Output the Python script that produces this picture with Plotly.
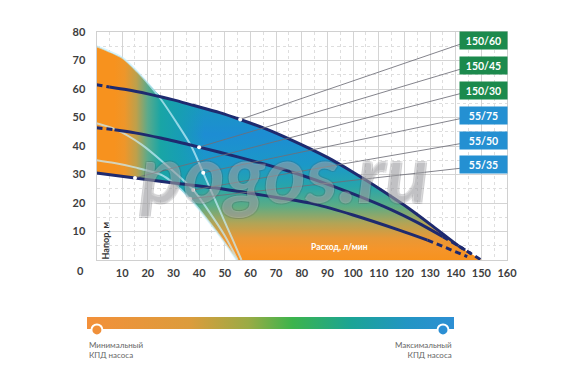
import plotly.graph_objects as go

W, H = 583, 388

# ---------------- data ----------------
X_TICKS = list(range(10, 161, 10))
Y_TICKS = list(range(10, 81, 10))

Q_150_60 = [0, 5, 12, 20, 25, 30, 38, 48, 56, 66, 75, 90, 100, 111, 120, 130, 141, 150]
H_150_60 = [61.5, 60.7, 59.7, 58.3, 57.3, 56.2, 54.2, 51.7, 49.3, 46.0, 42.5, 36.0, 30.8, 24.6, 19.2, 12.6, 5.0, 0]

Q_150_45 = [0, 7, 15, 25, 40, 55, 72, 85, 100, 115, 125, 135, 146]
H_150_45 = [46.4, 45.7, 44.6, 42.8, 39.6, 36.2, 32.0, 28.2, 23.2, 17.6, 13.2, 8.2, 2.3]

Q_150_30 = [0, 15, 30, 45, 60, 72, 85, 100, 118, 129, 144.5]
H_150_30 = [30.5, 28.8, 27.0, 25.4, 23.4, 21.7, 19.6, 15.8, 10.5, 7.0, 1.2]

Q_55_75 = [0, 10, 16, 21, 25, 31, 37, 41.6, 46, 50, 53, 56.5]
H_55_75 = [75, 71, 66, 61, 56.5, 48.5, 39.8, 30.6, 21.5, 13.4, 7.3, 0]

Q_55_50 = [0, 7, 17.6, 27, 37.7, 45, 50, 55]
H_55_50 = [48, 46, 40.5, 33.5, 24.6, 15.5, 8.5, 0]

Q_55_35 = [0, 7, 15, 25, 30, 36.5, 42, 48, 54.7]
H_55_35 = [35, 34, 32.5, 30.0, 27.0, 21.5, 15.5, 8.5, 0]

SERIES = ["150/60", "150/45", "150/30", "55/75", "55/50", "55/35"]
CURVES = {
    "150/60": (Q_150_60, H_150_60),
    "150/45": (Q_150_45, H_150_45),
    "150/30": (Q_150_30, H_150_30),
    "55/75": (Q_55_75, H_55_75),
    "55/50": (Q_55_50, H_55_50),
    "55/35": (Q_55_35, H_55_35),
}
# flow range drawn solid for the big pumps (rest dashed)
SOLID_RANGE = {"150/60": (5, 141), "150/45": (7, 135), "150/30": (0, 129)}
# curve point where each label's leader line ends
LEADER_POINT = {"150/60": 56, "150/45": 40, "150/30": 15, "55/75": 41.6, "55/50": 37.7, "55/35": 36.5}

UNION_Q = 23   # 55/75 above 150/60 left of this flow
LOW_Q = 30     # 150/30 forms lower edge of the field left of this flow

AXIS_TITLE_Y = "Напор, м"
AXIS_TITLE_X = "Расход, л/мин"
BAR_LEFT = ["Минимальный", "КПД насоса"]
BAR_RIGHT = ["Максимальный", "КПД насоса"]

# ---------------- layout geometry (pixels) ----------------
PX_L, PX_R, PX_T, PX_B = 96.5, 507.0, 32.0, 260.0
X_MAX, Y_MAX = 160, 80


def px2x(px):
    return X_MAX * (px - PX_L) / (PX_R - PX_L)


def px2y(py):
    return Y_MAX * (PX_B - py) / (PX_B - PX_T)


BOX_TOPS = [32.3, 57.3, 81.7, 106.7, 131.7, 156.3]
BOX_H = 17
BOX_LEFT, BOX_RIGHT = 460, 507
BOX_COLORS = ["#1c8a4d", "#1c8a4d", "#1c8a4d", "#2490d2", "#2490d2", "#2490d2"]

NAVY = "#1e2a6f"
LIGHT = "rgba(200,240,252,0.7)"
FONT = "Lato"

fig = go.Figure()

# ---------------- gradient field ----------------
upper = [(q, h) for q, h in zip(Q_55_75, H_55_75) if q < UNION_Q] + \
        [(q, h) for q, h in zip(Q_150_60, H_150_60) if q >= UNION_Q]
lower = [(q, h) for q, h in zip(Q_150_30, H_150_30) if q < LOW_Q] + \
        [(q, h) for q, h in zip(Q_55_35, H_55_35) if q >= LOW_Q]
poly = upper + lower[::-1]
poly_x = [p[0] for p in poly]
poly_y = [p[1] for p in poly]

A_SCALE = [
    [0.0, "#f7921e"],
    [0.05, "#f5952a"],
    [0.10, "#e89836"],
    [0.17, "#b2a456"],
    [0.25, "#5aac86"],
    [0.34, "#27a5ab"],
    [0.44, "#1b98c8"],
    [0.58, "#1d8dd3"],
    [0.72, "#1a97c2"],
    [0.86, "#17a2a8"],
    [1.0, "#19a6a0"],
]
fig.add_trace(go.Scatter(
    x=poly_x, y=poly_y, mode="lines", fill="toself", line=dict(width=0),
    fillgradient=dict(type="vertical", start=0, stop=76, colorscale=A_SCALE),
    hoverinfo="skip", showlegend=False))

B_SCALE = [
    [0.0, "rgba(247,146,30,1)"],
    [0.14, "rgba(247,146,30,1)"],
    [0.22, "rgba(238,150,42,1)"],
    [0.31, "rgba(190,160,75,1)"],
    [0.40, "rgba(90,170,140,1)"],
    [0.50, "rgba(25,165,165,1)"],
    [0.66, "rgba(22,160,175,0.8)"],
    [0.84, "rgba(22,160,175,0)"],
    [1.0, "rgba(22,160,175,0)"],
]
fig.add_trace(go.Scatter(
    x=poly_x, y=poly_y, mode="lines", fill="toself", line=dict(width=0),
    fillgradient=dict(type="horizontal", start=0, stop=50, colorscale=B_SCALE),
    hoverinfo="skip", showlegend=False))

# ---------------- small-pump curves (light) ----------------
for name in ["55/75", "55/50", "55/35"]:
    q, h = CURVES[name]
    fig.add_trace(go.Scatter(x=q, y=h, mode="lines",
                             line=dict(color=LIGHT, width=2, shape="spline", smoothing=0.8),
                             hoverinfo="skip", showlegend=False))

# ---------------- big-pump curves (navy, dashed ends) ----------------
for name in ["150/60", "150/45", "150/30"]:
    q, h = CURVES[name]
    lo, hi = SOLID_RANGE[name]
    sq = [a for a in q if lo <= a <= hi]
    sh = [b for a, b in zip(q, h) if lo <= a <= hi]
    fig.add_trace(go.Scatter(x=sq, y=sh, mode="lines",
                             line=dict(color=NAVY, width=3, shape="spline", smoothing=0.8),
                             hoverinfo="skip", showlegend=False))
    lq = [a for a in q if a <= lo]
    lh = [b for a, b in zip(q, h) if a <= lo]
    if len(lq) > 1:
        fig.add_trace(go.Scatter(x=lq, y=lh, mode="lines",
                                 line=dict(color=NAVY, width=3, dash="6px,4px"),
                                 hoverinfo="skip", showlegend=False))
    rq = [a for a in q if a >= hi]
    rh = [b for a, b in zip(q, h) if a >= hi]
    if len(rq) > 1:
        fig.add_trace(go.Scatter(x=rq, y=rh, mode="lines",
                                 line=dict(color=NAVY, width=3, dash="6px,4px"),
                                 hoverinfo="skip", showlegend=False))

# ---------------- leader lines & dots ----------------
dot_x, dot_y = [], []
for i, name in enumerate(SERIES):
    q, h = CURVES[name]
    k = q.index(LEADER_POINT[name])
    ex = px2x(BOX_LEFT)
    ey = px2y(BOX_TOPS[i] + 12)
    fig.add_trace(go.Scatter(x=[q[k], ex], y=[h[k], ey], mode="lines",
                             line=dict(color="rgba(110,110,120,0.85)", width=1),
                             hoverinfo="skip", showlegend=False))
    dot_x.append(q[k])
    dot_y.append(h[k])
fig.add_trace(go.Scatter(x=dot_x, y=dot_y, mode="markers",
                         marker=dict(color="white", size=4),
                         hoverinfo="skip", showlegend=False))

# ---------------- bottom efficiency bar ----------------
BAR_SCALE = [
    [0.0, "#f3903a"], [0.28, "#dc9c3c"], [0.44, "#9aab45"], [0.56, "#3cb44c"],
    [0.72, "#1ba495"], [0.87, "#2295c3"], [1.0, "#2d8fd4"],
]
fig.add_trace(go.Scatter(x=[0, 1, 1, 0], y=[0.39, 0.39, 0.82, 0.82], mode="lines",
                         fill="toself", line=dict(width=0),
                         fillgradient=dict(type="horizontal", start=0, stop=1, colorscale=BAR_SCALE),
                         xaxis="x2", yaxis="y2", hoverinfo="skip", showlegend=False))
fig.add_trace(go.Scatter(x=[0.027, 0.970], y=[0.36, 0.36], mode="markers",
                         marker=dict(color=["#f0903a", "#2b8fd4"], size=11,
                                     line=dict(color="white", width=2)),
                         xaxis="x2", yaxis="y2", hoverinfo="skip", showlegend=False))

# ---------------- annotations ----------------
ann = []


def note(text, px, py, **kw):
    d = dict(text=text, xref="paper", yref="paper", x=px / W, y=1 - py / H,
             showarrow=False, xanchor="center", yanchor="middle")
    d.update(kw)
    ann.append(d)


note("0", 80, 270, font=dict(family=FONT, size=11, color="#3d3d3d", weight="bold"))
note(AXIS_TITLE_Y, 104.5, 241, textangle=-90,
     font=dict(family=FONT, size=9, color="#333", weight="bold"))
note(AXIS_TITLE_X, 339, 247, font=dict(family=FONT, size=8.5, color="white", weight="bold"))
note("pogos.ru", 284, 172,
     font=dict(family=FONT, size=80, color="rgba(255,255,255,0.28)", style="italic",
               weight="bold",
               shadow="1px 1px 0 rgba(70,70,80,0.5), -1px -1px 0 rgba(70,70,80,0.5), "
                      "1px -1px 0 rgba(70,70,80,0.5), -1px 1px 0 rgba(70,70,80,0.5)"))
for i, name in enumerate(SERIES):
    note(name, (BOX_LEFT + BOX_RIGHT) / 2, BOX_TOPS[i] + BOX_H / 2,
         width=BOX_RIGHT - BOX_LEFT, height=BOX_H, borderpad=0,
         bgcolor=BOX_COLORS[i],
         font=dict(family=FONT, size=10.5, color="white", weight="bold"))
note("<br>".join(BAR_LEFT), 87, 350, xanchor="left", align="left",
     font=dict(family=FONT, size=8, color="#666"))
note("<br>".join(BAR_RIGHT), 454, 350, xanchor="right", align="right",
     font=dict(family=FONT, size=8, color="#666"))

tickfont = dict(family=FONT, size=11, color="#3d3d3d", weight="bold")
fig.update_layout(
    width=W, height=H, autosize=False,
    margin=dict(l=0, r=0, t=0, b=0),
    paper_bgcolor="white", plot_bgcolor="white",
    showlegend=False,
    annotations=ann,
    xaxis=dict(domain=[PX_L / W, PX_R / W], range=[0, X_MAX], tickmode="array",
               tickvals=X_TICKS, showgrid=True, gridcolor="#d4d4d4", gridwidth=1,
               minor=dict(tickmode="linear", tick0=0, dtick=5, showgrid=True,
                          gridcolor="#dedede", griddash="dot"),
               zeroline=False, showline=True, linecolor="#d0d0d0", mirror=True,
               ticks="outside", ticklen=3, tickcolor="rgba(0,0,0,0)",
               tickfont=tickfont, automargin=False, fixedrange=True, anchor="y"),
    yaxis=dict(domain=[1 - PX_B / H, 1 - PX_T / H], range=[0, Y_MAX], tickmode="array",
               tickvals=Y_TICKS, showgrid=True, gridcolor="#d4d4d4", gridwidth=1,
               minor=dict(tickmode="linear", tick0=0, dtick=5, showgrid=True,
                          gridcolor="#dedede", griddash="dot"),
               zeroline=False, showline=True, linecolor="#d0d0d0", mirror=True,
               ticks="outside", ticklen=8, tickcolor="rgba(0,0,0,0)",
               tickfont=tickfont, automargin=False, fixedrange=True, anchor="x"),
    xaxis2=dict(domain=[87 / W, 454 / W], range=[0, 1], visible=False, anchor="y2", fixedrange=True),
    yaxis2=dict(domain=[1 - 340 / H, 1 - 312 / H], range=[0, 1], visible=False, anchor="x2", fixedrange=True),
)

fig.write_html("out.html", config={"displayModeBar": False},
               post_script="document.body.style.margin='0';")
